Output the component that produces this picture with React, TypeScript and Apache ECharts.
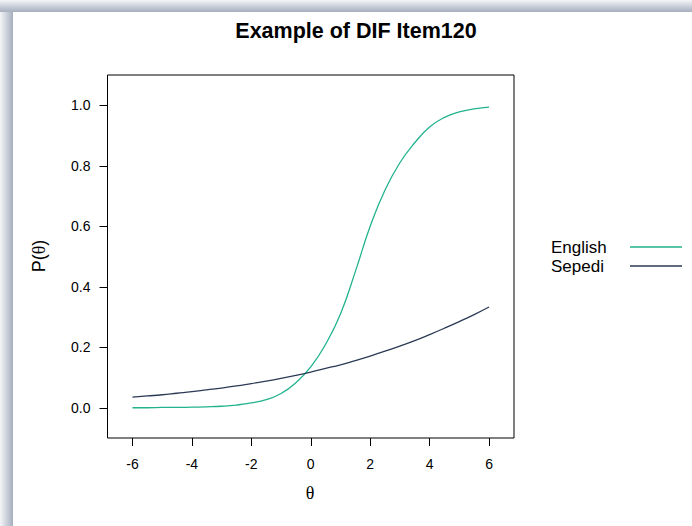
import React, { useEffect, useRef } from "react";
import * as echarts from "echarts";

const titleText = "Example of DIF Item120";
const theta = [-6, -5.5, -5, -4.5, -4, -3.5, -3, -2.5, -2, -1.5, -1, -0.5, 0, 0.5, 1, 1.5, 2, 2.5, 3, 3.5, 4, 4.5, 5, 5.5, 6];
const englishP = [0.0, 0.0, 0.001, 0.001, 0.002, 0.003, 0.005, 0.009, 0.016, 0.027, 0.047, 0.083, 0.135, 0.21, 0.31, 0.45, 0.6, 0.72, 0.81, 0.876, 0.928, 0.96, 0.978, 0.988, 0.994];
const sepediP = [0.035, 0.039, 0.043, 0.048, 0.053, 0.059, 0.065, 0.072, 0.08, 0.088, 0.097, 0.107, 0.118, 0.13, 0.142, 0.156, 0.171, 0.187, 0.204, 0.222, 0.242, 0.263, 0.285, 0.308, 0.333];
const seriesNames = ["English", "Sepedi"];
const seriesColors = ["#22b38e", "#2b3a55"];
const xTicks = [-6, -4, -2, 0, 2, 4, 6];
const yTicks = [0, 0.2, 0.4, 0.6, 0.8, 1.0];

export default function App() {
  const ref = useRef<HTMLDivElement>(null);
  useEffect(() => {
    if (!ref.current) return;
    const chart = echarts.init(ref.current, null, { renderer: "svg" });
    const seriesData = [englishP, sepediP];
    const font = "Liberation Sans, Arial, sans-serif";
    const legendGraphics: any[] = [];
    seriesNames.forEach((n, i) => {
      const cy = 247 + i * 19;
      legendGraphics.push({
        type: "text",
        x: 551,
        y: cy,
        style: { text: n, fontSize: 17, fontFamily: font, fill: "#000", align: "left", verticalAlign: "middle" },
      });
      legendGraphics.push({
        type: "line",
        shape: { x1: 630, y1: cy, x2: 682, y2: cy },
        style: { stroke: seriesColors[i], lineWidth: 1.3 },
      });
    });
    chart.setOption({
      animation: false,
      backgroundColor: "#fff",
      grid: {
        left: 107.5,
        right: 178,
        top: 75,
        bottom: 88,
        show: true,
        borderColor: "#000",
        borderWidth: 1,
        backgroundColor: "transparent",
      },
      xAxis: {
        type: "value",
        position: "bottom",
        min: -6.84,
        max: 6.84,
        axisLine: { show: false, onZero: false },
        splitLine: { show: false },
        axisTick: { show: true, length: 8, customValues: xTicks, lineStyle: { color: "#000", width: 1 } },
        axisLabel: {
          customValues: xTicks,
          margin: 19,
          fontSize: 14,
          fontFamily: font,
          color: "#000",
          verticalAlign: "top",
          formatter: (v: number) => String(v),
        },
      },
      yAxis: {
        type: "value",
        position: "left",
        min: -0.1,
        max: 1.1,
        axisLine: { show: false, onZero: false },
        splitLine: { show: false },
        axisTick: { show: true, length: 8, customValues: yTicks, lineStyle: { color: "#000", width: 1 } },
        axisLabel: {
          customValues: yTicks,
          margin: 17,
          fontSize: 14,
          fontFamily: font,
          color: "#000",
          formatter: (v: number) => v.toFixed(1),
        },
      },
      series: seriesNames.map((n, i) => ({
        name: n,
        type: "line",
        smooth: 0.5,
        showSymbol: false,
        data: theta.map((t, j) => [t, seriesData[i][j]]),
        lineStyle: { color: seriesColors[i], width: 1.3 },
        itemStyle: { color: seriesColors[i] },
      })),
      graphic: [
        {
          type: "rect",
          shape: { x: 0, y: 0, width: 13, height: 526 },
          style: {
            fill: new echarts.graphic.LinearGradient(0, 0, 1, 0, [
              { offset: 0, color: "#f4f5f7" },
              { offset: 1, color: "#a6afbf" },
            ]),
          },
        },
        {
          type: "rect",
          shape: { x: 0, y: 0, width: 692, height: 12 },
          style: {
            fill: new echarts.graphic.LinearGradient(0, 0, 0, 1, [
              { offset: 0, color: "#f4f5f7" },
              { offset: 1, color: "#a6afbf" },
            ]),
          },
        },
        {
          type: "text",
          x: 356,
          y: 31,
          style: {
            text: titleText,
            fontSize: 21.5,
            fontWeight: "bold",
            fontFamily: font,
            fill: "#000",
            align: "center",
            verticalAlign: "middle",
          },
        },
        {
          type: "text",
          x: 310,
          y: 493,
          style: {
            text: "θ",
            fontSize: 18,
            fontFamily: "Liberation Serif, DejaVu Serif, serif",
            fill: "#000",
            align: "center",
            verticalAlign: "middle",
          },
        },
        {
          type: "text",
          x: 39,
          y: 256,
          rotation: Math.PI / 2,
          style: {
            text: "{a|P(}{b|θ}{a|)}",
            align: "center",
            verticalAlign: "middle",
            rich: {
              a: { fontSize: 18, fontFamily: font, fill: "#000" },
              b: { fontSize: 18, fontFamily: "Liberation Serif, DejaVu Serif, serif", fill: "#000" },
            },
          },
        },
        ...legendGraphics,
      ],
    });
    return () => chart.dispose();
  }, []);
  return <div ref={ref} style={{ position: "fixed", left: 0, top: 0, width: 692, height: 526 }} />;
}
